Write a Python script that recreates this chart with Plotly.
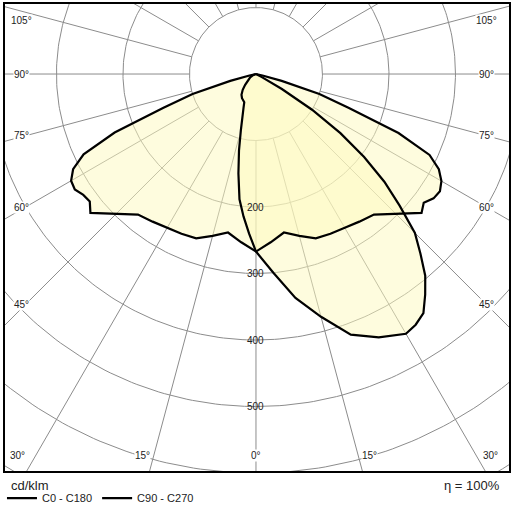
import numpy as np
import plotly.graph_objects as go

# luminous intensity, cd/klm, gamma measured from nadir (negative = C180 / C270 side)
gamma_c0 = [-90, -80, -77.5, -75, -72.5, -70, -67.5, -65, -62.5, -60, -57.5, -55, -52.5, -50,
            -45, -40, -35, -30, -25, -20, -15, -10, -5, 0, 5, 10, 15, 20, 25, 30, 35, 40, 45,
            50, 52.5, 55, 57.5, 60, 62.5, 65, 67.5, 70, 72.5, 75, 77.5, 80, 90]
intensity_c0 = [0, 0, 10, 40, 100, 148, 230, 286, 310, 321, 323, 317, 315, 325,
                297, 276, 271, 267, 265, 263, 252, 242, 254, 267, 254, 242, 252, 263, 265, 267, 271, 276, 297,
                325, 318, 326, 328, 322, 310, 288, 232, 148, 100, 40, 10, 0, 0]

gamma_c90 = [-90, -70, -60, -50, -45, -40, -35, -30, -25, -22.5, -20, -17.5, -15, -12.5, -10,
             -7.5, -5, -2.5, 0, 5, 10, 15, 20, 25, 30, 32.5, 35, 37.5, 40, 42.5, 45, 47.5, 50,
             52.5, 55, 57.5, 60, 62.5, 65, 90]
intensity_c90 = [0, 4, 10, 17, 23, 31, 38, 42, 44, 46, 55, 68, 88, 118, 152,
                 190, 215, 240, 267, 300, 342, 378, 417, 437, 451, 447, 439, 418, 396, 366, 338, 293, 252,
                 205, 155, 100, 45, 10, 0, 0]

ring_values = [100, 200, 300, 400, 500, 600, 700]
ring_labels = [200, 300, 400, 500]
spoke_angles = list(range(0, 360, 15))

side_labels = ["105°", "90°", "75°", "60°", "45°"]
bottom_labels = ["30°", "15°", "0°", "15°", "30°"]

# label anchor positions (layout only)
side_y = [81, 0, -92, -200, -346]
bottom_x = [-358, -170, 0, 171, 352]

FONT = "Arial, Liberation Sans, sans-serif"
GRID = "#8c8c8c"


def to_xy(gamma, r):
    g = np.radians(np.asarray(gamma, dtype=float))
    r = np.asarray(r, dtype=float)
    return r * np.sin(g), -r * np.cos(g)


fig = go.Figure()

# rings
t = np.linspace(0, 360, 361)
rx, ry = [], []
for v in ring_values:
    x, y = to_xy(t, np.full_like(t, v))
    rx += list(x) + [None]
    ry += list(y) + [None]
fig.add_trace(go.Scatter(x=rx, y=ry, mode="lines", line=dict(color=GRID, width=1),
                         hoverinfo="skip", showlegend=False))

# spokes, starting at the first ring
sx, sy = [], []
for a in spoke_angles:
    x, y = to_xy([a, a], [ring_values[0], 1000])
    sx += list(x) + [None]
    sy += list(y) + [None]
fig.add_trace(go.Scatter(x=sx, y=sy, mode="lines", line=dict(color=GRID, width=1),
                         hoverinfo="skip", showlegend=False))

curves = [("C0 - C180", gamma_c0, intensity_c0), ("C90 - C270", gamma_c90, intensity_c90)]

for name, g, r in curves:
    x, y = to_xy(g, r)
    fig.add_trace(go.Scatter(x=x, y=y, mode="lines", fill="toself",
                             fillcolor="rgba(253,250,190,0.5)", line=dict(width=0),
                             hoverinfo="skip", showlegend=False))

for name, g, r in curves:
    x, y = to_xy(g, r)
    fig.add_trace(go.Scatter(x=x, y=y, mode="lines", name=name,
                             line=dict(color="black", width=2.2)))

ann = []
for v in ring_labels:
    ann.append(dict(x=0, y=-v, text=str(v), showarrow=False,
                    font=dict(size=10, color="#222")))
for txt, yy in zip(side_labels, side_y):
    for xx in (-353, 346):
        ann.append(dict(x=xx, y=yy, text=txt, showarrow=False, bgcolor="white",
                        borderpad=0, font=dict(size=10, color="#222")))
for txt, xx in zip(bottom_labels, bottom_x):
    ann.append(dict(x=xx, y=-573, text=txt, showarrow=False, bgcolor="white",
                    borderpad=0, font=dict(size=10, color="#222")))

ann.append(dict(xref="paper", yref="paper", x=0.008, y=-0.01, xanchor="left", yanchor="top",
                text="cd/klm", showarrow=False, font=dict(size=13, color="#222")))
ann.append(dict(xref="paper", yref="paper", x=0.987, y=-0.01, xanchor="right", yanchor="top",
                text="η = 100%", showarrow=False, font=dict(size=13, color="#222")))

fig.update_layout(
    width=512, height=512,
    margin=dict(l=5, r=3, t=4, b=41, autoexpand=False),
    plot_bgcolor="white", paper_bgcolor="white",
    font=dict(family=FONT),
    annotations=ann,
    showlegend=True,
    legend=dict(orientation="h", x=-0.006, y=-0.027, xanchor="left", yanchor="top",
                font=dict(size=11, color="#222"), bgcolor="rgba(0,0,0,0)",
                itemwidth=30, tracegroupgap=0),
    xaxis=dict(range=[-377.4, 380.5], showgrid=False, zeroline=False, showticklabels=False,
               ticks="", showline=True, mirror=True, linecolor="black", linewidth=1.5,
               fixedrange=True),
    yaxis=dict(range=[-597, 105.3], showgrid=False, zeroline=False, showticklabels=False,
               ticks="", showline=True, mirror=True, linecolor="black", linewidth=1.5,
               fixedrange=True),
)

# the page's default body margin would push the 512px figure off the window
fig.write_html("out.html", config={"displayModeBar": False},
               post_script="document.body.style.margin='0px';")
